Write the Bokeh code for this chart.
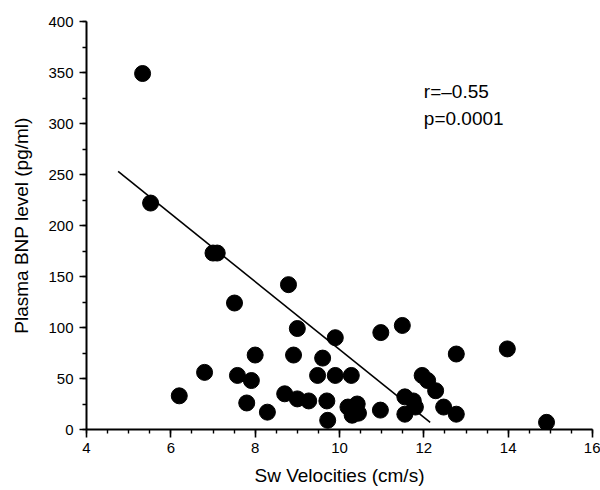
from bokeh.plotting import figure
from bokeh.models import Label, SingleIntervalTicker
from bokeh.embed import file_html
from bokeh.resources import INLINE

# Data
sw_velocity = [5.33, 5.52, 7.0, 7.1, 7.51, 8.79, 9.0, 9.9, 10.98, 11.49,
               12.77, 13.98, 14.91, 6.8, 6.2, 7.58, 7.91, 8.0, 7.8, 8.29,
               8.7, 8.91, 9.0, 9.27, 9.6, 9.48, 9.9, 10.28, 9.7, 9.72,
               10.2, 10.42, 10.3, 10.45, 10.97, 11.55, 11.75, 11.55, 11.8,
               11.96, 12.09, 12.28, 12.47, 12.77]
bnp_level = [349, 222, 173, 173, 124, 142, 99, 90, 95, 102,
             74, 79, 7, 56, 33, 53, 48, 73, 26, 17,
             35, 73, 30, 28, 70, 53, 53, 53, 28, 9,
             22, 25, 14, 16, 19, 32, 28, 15, 22,
             53, 48, 38, 22, 15]

fit_x = [4.75, 12.15]
fit_y = [253, 7]

stats_lines = ["r=\u20130.55", "p=0.0001"]
stats_y = [331, 305]

FONT = "Liberation Sans"

p = figure(width=600, height=490, x_range=(4, 16), y_range=(0, 400),
           output_backend="svg", toolbar_location=None,
           min_border_left=86, min_border_right=8, min_border_top=21,
           min_border_bottom=61)
p.outline_line_color = None
p.grid.visible = False
p.background_fill_color = "white"
p.border_fill_color = "white"

p.line(fit_x, fit_y, line_color="black", line_width=1.6)
p.scatter(sw_velocity, bnp_level, size=16, fill_color="black",
          line_color="black")

for txt, yy in zip(stats_lines, stats_y):
    p.add_layout(Label(x=12.0, y=yy, text=txt, text_font=FONT,
                       text_font_size="19px", text_color="black",
                       text_baseline="alphabetic"))

# axes
p.xaxis.ticker = SingleIntervalTicker(interval=2, num_minor_ticks=4)
p.yaxis.ticker = SingleIntervalTicker(interval=50, num_minor_ticks=2)
for ax in (p.xaxis, p.yaxis):
    ax.axis_line_width = 2
    ax.axis_line_color = "black"
    ax.major_tick_line_color = "black"
    ax.minor_tick_line_color = "black"
    ax.major_tick_line_width = 1.6
    ax.minor_tick_line_width = 1.4
    ax.major_tick_in = 0
    ax.minor_tick_in = 0
    ax.major_label_text_font = FONT
    ax.major_label_text_font_size = "15px"
    ax.major_label_text_color = "black"
    ax.axis_label_text_font = FONT
    ax.axis_label_text_font_style = "normal"
    ax.axis_label_text_font_size = "19px"
    ax.axis_label_text_color = "black"

p.xaxis.axis_label = "Sw Velocities (cm/s)"
p.yaxis.axis_label = "Plasma BNP level (pg/ml)"
p.xaxis.major_tick_out = 8
p.xaxis.minor_tick_out = 4
p.yaxis.major_tick_out = 7
p.yaxis.minor_tick_out = 4
p.xaxis.major_label_standoff = 5
p.yaxis.major_label_standoff = 6
p.xaxis.axis_label_standoff = 9
p.yaxis.axis_label_standoff = 13

open("out.html", "w").write(file_html(p, INLINE))
